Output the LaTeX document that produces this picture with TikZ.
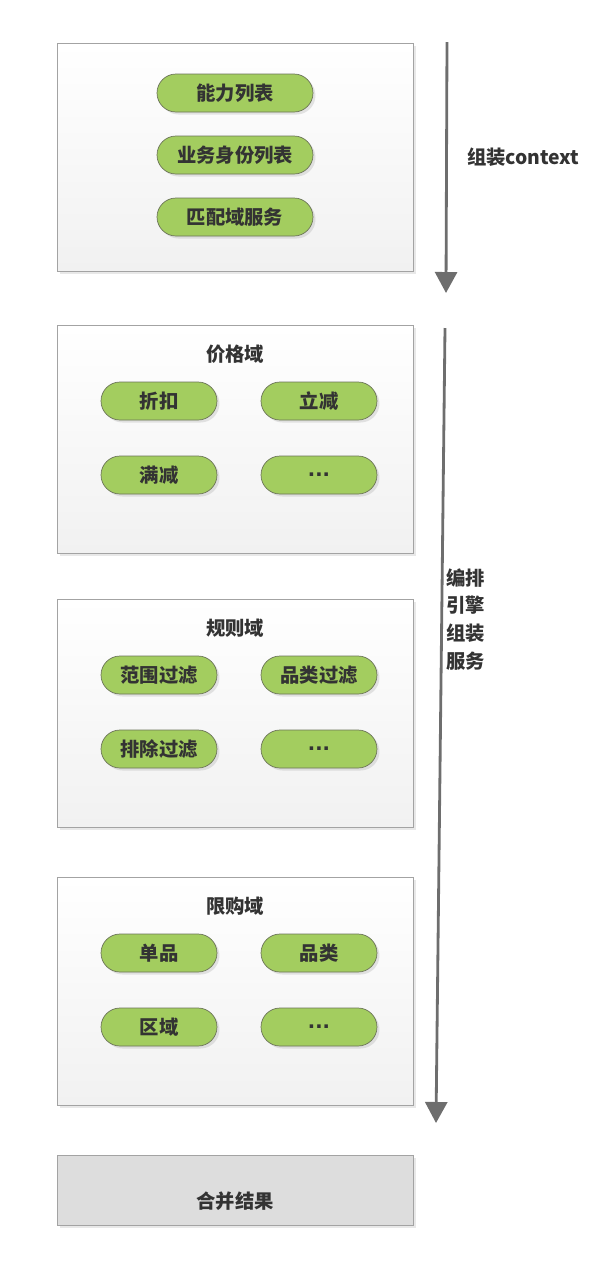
\documentclass[tikz,border=0pt]{standalone}
\usepackage{fontspec}
\setmainfont{Noto Sans CJK SC}
\newfontfamily\dotfont{Liberation Sans}[Ligatures=NoCommon]
\usetikzlibrary{arrows.meta,positioning,shadows}
\definecolor{pillgreen}{HTML}{A3CD5F}
\definecolor{pillline}{HTML}{6B7358}
\definecolor{boxline}{HTML}{A3A3A3}
\definecolor{inktext}{HTML}{333333}
\definecolor{flowgray}{HTML}{6E6E6E}
\newcommand{\moredots}{{\dotfont\bfseries\fontsize{14}{14}\selectfont .\kern0.3pt.\kern0.3pt.}}
\tikzset{
  domainbox/.style={draw=boxline, top color=white, bottom color=gray!11,
    minimum width=7.12cm, minimum height=4.56cm, inner sep=0pt,
    drop shadow={shadow xshift=0.06cm, shadow yshift=-0.06cm, opacity=0.18}},
  pill/.style={draw=pillline, fill=pillgreen, rounded corners=0.38cm,
    minimum height=0.76cm, inner sep=0pt, text=inktext, font=\bfseries\fontsize{11}{13}\selectfont,
    drop shadow={shadow xshift=0.05cm, shadow yshift=-0.05cm, opacity=0.2}},
  flowarr/.style={-{Triangle[length=4.2mm, width=4.4mm]}, draw=flowgray, line width=1.6pt},
}

\begin{document}
\begin{tikzpicture}[
  x=0.02cm, y=-0.02cm,
  wide/.style={pill, minimum width=3.12cm},
  half/.style={pill, minimum width=2.32cm},
  heading/.style={text=inktext, font=\bfseries\fontsize{11}{15.9}\selectfont},
]
  \useasboundingbox (0,0) rectangle (600,1276);

  % context box
  \node[domainbox] (ctx) at (235,157) {};
  \node[wide] (cap) at (235,93) {能力列表};
  \node[wide] (biz) at (235,155) {业务身份列表};
  \node[wide] (match) at (235,217) {匹配域服务};

  % three domains
  \foreach \d/\y/\t in {price/439/价格域, rule/713/规则域, limit/991/限购域}{
    \node[domainbox] (\d) at (235,\y) {};
    \node[heading, below=0.28cm of \d.north] (\d-t) {\t};
  }
  \node[half] (p1) at (159,401) {折扣};
  \node[half] (p2) at (319,401) {立减};
  \node[half] (p3) at (159,475) {满减};
  \node[half] (p4) at (319,475) {\moredots};
  \node[half] (r1) at (159,675) {范围过滤};
  \node[half] (r2) at (319,675) {品类过滤};
  \node[half] (r3) at (159,749) {排除过滤};
  \node[half] (r4) at (319,749) {\moredots};
  \node[half] (l1) at (159,953) {单品};
  \node[half] (l2) at (319,953) {品类};
  \node[half] (l3) at (159,1027) {区域};
  \node[half] (l4) at (319,1027) {\moredots};

  % result
  \node[draw=boxline, fill=gray!27, minimum width=7.12cm, minimum height=1.4cm,
    drop shadow={shadow xshift=0.06cm, shadow yshift=-0.06cm, opacity=0.18}] (merge) at (235,1190) {};
  \node[heading] (merge-t) at (235,1201) {合并结果};

  % flow arrows
  \coordinate (a1) at (447,42);
  \coordinate (b1) at (446,293);
  \coordinate (a2) at (445,328);
  \coordinate (b2) at (436,1123);
  \draw[flowarr] (a1) -- (b1);
  \draw[flowarr] (a2) -- (b2);
  \node[heading, anchor=west] (ctx-l) at (461,157) {组装context};
  \node[heading, anchor=north west, align=left, inner sep=0pt] (svc-l) at (446,568) {编排\\引擎\\组装\\服务};
\end{tikzpicture}
\end{document}
